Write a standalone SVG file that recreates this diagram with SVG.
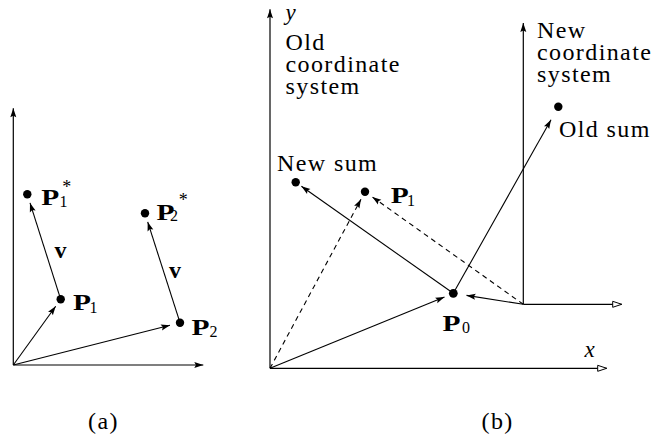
<svg xmlns="http://www.w3.org/2000/svg" width="656" height="436" viewBox="0 0 656 436" font-family="'Liberation Serif', 'Times New Roman', 'DejaVu Serif', serif">
<style>
  text { font-family: "Liberation Serif", "Times New Roman", "DejaVu Serif", serif; fill: #000; }
  .t { font-size: 24px; letter-spacing: 1.4px; }
  .it { font-size: 23px; font-style: italic; }
  .b { font-size: 24px; font-weight: bold; }
  .sub { font-size: 16px; }
  .star { font-size: 18px; }
  .ln { stroke: #000; stroke-width: 1.1; fill: none; }
  .ax { stroke: #000; stroke-width: 1.2; fill: none; }
  .ds { stroke-dasharray: 5 4; }
  .arr { marker-end: url(#ah); }
  .open { marker-end: url(#oh); }
  .dot { fill: #000; }
</style>
<defs>
  <marker id="ah" markerUnits="userSpaceOnUse" markerWidth="10" markerHeight="8" refX="9" refY="3.5" orient="auto" overflow="visible">
    <path d="M0,0.5 L9,3.5 L0,6.5 L1.6,3.5 z" fill="#000"/>
  </marker>
  <marker id="oh" markerUnits="userSpaceOnUse" markerWidth="12" markerHeight="9" refX="9.5" refY="3.5" orient="auto" overflow="visible">
    <path d="M0.5,0.5 L9.5,3.5 L0.5,6.5 z" fill="#fff" stroke="#000" stroke-width="1"/>
  </marker>
</defs>

<!-- axes -->
<g id="axes">
  <line class="ax arr" x1="13.3" y1="365" x2="13.3" y2="108.3"/>
  <line class="ax arr" x1="13.3" y1="365" x2="203.3" y2="365"/>
  <line class="ax arr" x1="270" y1="368.3" x2="270" y2="9.3"/>
  <line class="ax open" x1="270" y1="368.3" x2="606.7" y2="368.3"/>
  <line class="ax arr" x1="523.3" y1="304.3" x2="523.3" y2="23"/>
  <line class="ax open" x1="523.3" y1="304.3" x2="621.7" y2="304.3"/>
</g>

<!-- connectors -->
<g id="connectors">
  <line class="ln arr" x1="13.3" y1="365" x2="55.7" y2="306.2"/>
  <line class="ln arr" x1="13.3" y1="365" x2="170" y2="325.3"/>
  <line class="ln arr" x1="60.7" y1="299.3" x2="30" y2="202.9"/>
  <line class="ln arr" x1="180" y1="322.7" x2="147.7" y2="221.9"/>

  <line class="ln arr" x1="270" y1="368.3" x2="444.5" y2="297"/>
  <line class="ln ds arr" x1="270" y1="368.3" x2="361" y2="199.2"/>
  <line class="ln arr" x1="453.3" y1="293.3" x2="301.4" y2="186.3"/>
  <line class="ln ds arr" x1="523.3" y1="304.3" x2="372.3" y2="196.9"/>
  <line class="ln arr" x1="523.3" y1="304.3" x2="466.5" y2="295.4"/>
  <line class="ln arr" x1="453.3" y1="293.3" x2="551" y2="119.8"/>
</g>

<!-- panel (a) nodes -->
<g id="P1star">
  <circle class="dot" cx="27.3" cy="194.3" r="4.2"/>
  <text class="b" x="41.3" y="204.5" textLength="18" lengthAdjust="spacingAndGlyphs">P</text>
  <text class="sub" x="59.5" y="206.7">1</text>
  <text class="star" x="66.7" y="193" text-anchor="middle">*</text>
</g>
<g id="v1"><text class="b" x="54.5" y="258">v</text></g>
<g id="P1a">
  <circle class="dot" cx="60.7" cy="299.3" r="4.2"/>
  <text class="b" x="73" y="310" textLength="18" lengthAdjust="spacingAndGlyphs">P</text>
  <text class="sub" x="89.5" y="313.3">1</text>
</g>
<g id="P2star">
  <circle class="dot" cx="145" cy="213.3" r="4.2"/>
  <text class="b" x="156.4" y="219.5" textLength="18" lengthAdjust="spacingAndGlyphs">P</text>
  <text class="sub" x="170" y="221">2</text>
  <text class="star" x="183.3" y="206" text-anchor="middle">*</text>
</g>
<g id="v2"><text class="b" x="169" y="278">v</text></g>
<g id="P2a">
  <circle class="dot" cx="180" cy="322.7" r="4.2"/>
  <text class="b" x="191.4" y="334.5" textLength="18" lengthAdjust="spacingAndGlyphs">P</text>
  <text class="sub" x="209.5" y="337">2</text>
</g>

<!-- panel (b) nodes -->
<g id="oldsys">
  <text class="it" x="285.5" y="19.5">y</text>
  <text class="t" x="285.5" y="50">Old</text>
  <text class="t" x="285.5" y="72">coordinate</text>
  <text class="t" x="285.5" y="94">system</text>
</g>
<g id="newsys">
  <text class="t" x="537" y="38">New</text>
  <text class="t" x="537" y="60">coordinate</text>
  <text class="t" x="537" y="82">system</text>
</g>
<g id="oldsum">
  <circle class="dot" cx="558.3" cy="106.7" r="4.2"/>
  <text class="t" x="559" y="137">Old sum</text>
</g>
<g id="newsum">
  <circle class="dot" cx="295.7" cy="182.3" r="4.2"/>
  <text class="t" x="277" y="171">New sum</text>
</g>
<g id="P1b">
  <circle class="dot" cx="365" cy="191.7" r="4.2"/>
  <text class="b" x="390.7" y="203.3" textLength="18" lengthAdjust="spacingAndGlyphs">P</text>
  <text class="sub" x="407" y="206.3">1</text>
</g>
<g id="P0">
  <circle class="dot" cx="453.3" cy="293.3" r="4.4"/>
  <text class="b" x="442.4" y="330.7" textLength="18" lengthAdjust="spacingAndGlyphs">P</text>
  <text class="sub" x="462" y="332.8">0</text>
</g>
<g id="xlabel"><text class="it" x="584.5" y="357">x</text></g>

<!-- captions -->
<g id="captions">
  <text class="t" x="88" y="428.5">(a)</text>
  <text class="t" x="481.5" y="428.5">(b)</text>
</g>
</svg>
